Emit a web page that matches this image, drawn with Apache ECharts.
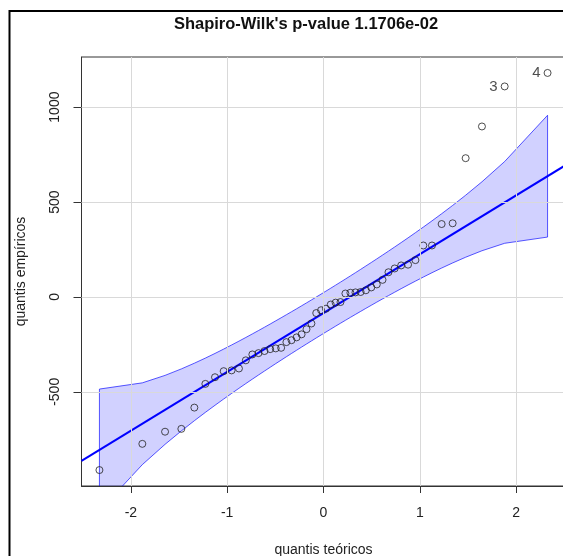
<!DOCTYPE html>
<html>
<head>
<meta charset="utf-8">
<script src="https://cdn.jsdelivr.net/npm/echarts@6/dist/echarts.min.js"></script>
<style>
  html, body { margin: 0; padding: 0; background: #fff; }
  #chart { width: 563px; height: 556px; }
</style>
</head>
<body>
<div id="chart"></div>
<script>
// Theoretical normal quantiles (n = 50)
var theoQ = [-2.3263,-1.8808,-1.6449,-1.4758,-1.3408,-1.2265,-1.1264,-1.0364,-0.9542,-0.8779,
  -0.8064,-0.7388,-0.6745,-0.6128,-0.5534,-0.4959,-0.4399,-0.3853,-0.3319,-0.2793,
  -0.2275,-0.1764,-0.1257,-0.0753,-0.0251,0.0251,0.0753,0.1257,0.1764,0.2275,
  0.2793,0.3319,0.3853,0.4399,0.4959,0.5534,0.6128,0.6745,0.7388,0.8064,
  0.8779,0.9542,1.0364,1.1264,1.2265,1.3408,1.4758,1.6449,1.8808,2.3263];
// Empirical quantiles (sorted sample)
var empQ = [-912,-774,-710,-695,-583,-458,-423,-391,-387,-377,
  -334,-303,-296,-285,-275,-271,-268,-238,-228,-213,
  -197,-170,-140,-85,-70,-62,-40,-30,-27,18,
  22,24,26,35,50,66,90,130,150,166,
  170,194,271,271,384,388,731,898,1109,1180];
// Point id labels (only the two flagged points)
var pointLabels = ['','','','','','','','','','','','','','','','','','','','','','','','','',
  '','','','','','','','','','','','','','','','','','','','','','','','3','4'];
// Confidence envelope
var bandUpper = [-485.4,-452.6,-413.3,-379.2,-349.1,-322.2,-297.6,-274.7,-253.2,-232.9,
  -213.6,-194.9,-177.0,-159.6,-142.7,-126.0,-109.8,-93.7,-78.0,-62.4,
  -46.8,-31.4,-16.0,-0.5,14.9,30.5,46.1,62.0,78.0,94.2,
  110.8,127.8,145.1,163.0,181.4,200.5,220.4,241.2,263.1,286.4,
  311.3,338.4,367.9,400.8,438.2,482.1,535.8,606.5,713.4,957.0];
var bandLower = [-1127.0,-883.4,-776.5,-705.8,-652.1,-608.2,-570.8,-537.9,-508.4,-481.3,
  -456.4,-433.1,-411.2,-390.4,-370.5,-351.4,-333.0,-315.1,-297.8,-280.8,
  -264.2,-248.0,-232.0,-216.1,-200.5,-184.9,-169.5,-154.0,-138.6,-123.2,
  -107.6,-92.0,-76.3,-60.2,-44.0,-27.3,-10.4,7.0,24.9,43.6,
  62.9,83.2,104.7,127.6,152.2,179.1,209.2,243.3,282.6,315.4];
// Reference line end points
var lineX = [-2.5124, 2.5124];
var lineY = [-863.8, 693.8];
// Tick labels
var xTicks = [-2, -1, 0, 1, 2];
var yTicks = [-500, 0, 500, 1000];

var titleText = "Shapiro-Wilk's p-value 1.1706e-02";
var xName = 'quantis teóricos';
var yName = 'quantis empíricos';

var FONT = '"Liberation Sans", Arial, sans-serif';

var chart = echarts.init(document.getElementById('chart'), null, { renderer: 'canvas' });

var scatterData = theoQ.map(function (x, i) {
  var item = { value: [x, empQ[i]] };
  if (pointLabels[i]) {
    item.label = { show: true, formatter: pointLabels[i], position: 'left', distance: 3,
      fontSize: 15, color: '#222', fontFamily: FONT };
  }
  return item;
});
var bandData = theoQ.map(function (x, i) { return [x, bandUpper[i], bandLower[i]]; });

var gridLines = xTicks.map(function (v) { return { xAxis: v }; })
  .concat(yTicks.map(function (v) { return { yAxis: v }; }));

function plain(v) { return String(v); }

var option = {
  backgroundColor: '#fff',
  animation: false,
  title: {
    text: titleText,
    left: 301,
    top: 11,
    textAlign: 'center',
    textStyle: { fontFamily: FONT, fontWeight: 'bold', fontSize: 16.5, color: '#111' }
  },
  graphic: [{
    type: 'rect',
    shape: { x: 9.5, y: 11, width: 700, height: 700 },
    style: { fill: 'none', stroke: '#000', lineWidth: 2 },
    silent: true, z: 100
  }],
  grid: {
    left: 81.5, top: 57, width: 484, height: 429,
    outerBoundsMode: 'none', containLabel: false,
    show: true, borderColor: '#333', borderWidth: 1, backgroundColor: 'transparent'
  },
  xAxis: {
    type: 'value', min: -2.5124, max: 2.5124,
    name: xName, nameLocation: 'middle', nameGap: 57,
    nameTextStyle: { fontFamily: FONT, fontSize: 14, color: '#222' },
    axisLine: { show: true, onZero: false, lineStyle: { color: '#333', width: 1 } },
    axisTick: { show: true, length: 7, customValues: xTicks, lineStyle: { color: '#333' } },
    axisLabel: { customValues: xTicks, margin: 20, formatter: plain, fontFamily: FONT, fontSize: 14, color: '#222' },
    splitLine: { show: false }
  },
  yAxis: {
    type: 'value', min: -996, max: 1264,
    name: yName, nameLocation: 'middle', nameGap: 53,
    nameTextStyle: { fontFamily: FONT, fontSize: 14, color: '#222' },
    axisLine: { show: true, onZero: false, lineStyle: { color: '#333', width: 1 } },
    axisTick: { show: true, length: 8, customValues: yTicks, lineStyle: { color: '#333' } },
    axisLabel: { customValues: yTicks, rotate: 90, margin: 19, formatter: plain, fontFamily: FONT, fontSize: 14, color: '#222' },
    splitLine: { show: false }
  },
  series: [
    {
      type: 'line', data: [], z: 1, silent: true,
      markLine: {
        silent: true, symbol: 'none', animation: false,
        label: { show: false },
        lineStyle: { color: '#d9d9d9', width: 1, type: 'solid' },
        data: gridLines
      }
    },
    {
      type: 'custom', z: 2, silent: true,
      data: bandData,
      renderItem: function (params, api) {
        if (params.dataIndex !== 0) return null;
        var pts = [];
        for (var i = 0; i < bandData.length; i++) pts.push(api.coord([bandData[i][0], bandData[i][1]]));
        for (var j = bandData.length - 1; j >= 0; j--) pts.push(api.coord([bandData[j][0], bandData[j][2]]));
        var cs = params.coordSys;
        return {
          type: 'polygon',
          shape: { points: pts },
          style: { fill: 'rgba(0,0,255,0.18)', stroke: 'rgba(0,0,255,0.65)', lineWidth: 1 },
          clipPath: { type: 'rect', shape: { x: cs.x, y: cs.y, width: cs.width, height: cs.height } }
        };
      }
    },
    {
      type: 'line', z: 3, silent: true, clip: true,
      data: lineX.map(function (x, i) { return [x, lineY[i]]; }),
      symbol: 'none',
      lineStyle: { color: '#0000ff', width: 2 }
    },
    {
      type: 'scatter', z: 4, silent: true,
      data: scatterData,
      symbol: 'circle', symbolSize: 7,
      itemStyle: { color: 'rgba(0,0,0,0)', borderColor: '#222', borderWidth: 1 }
    }
  ]
};
chart.setOption(option);
</script>
</body>
</html>
